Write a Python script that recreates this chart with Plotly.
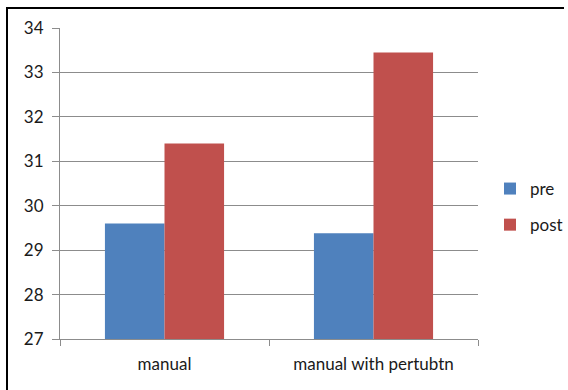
import plotly.graph_objects as go

# Category labels and series values
categories = ["manual", "manual with pertubtn"]
pre_values = [29.6, 29.38]
post_values = [31.4, 33.45]
y_ticks = [27, 28, 29, 30, 31, 32, 33, 34]

BLUE = "#4F81BD"
RED = "#C0504D"
GRID = "#8C8C8C"
FONT = "Lato, Calibri, Carlito, sans-serif"

W, H = 568, 390
L, R, T, B = 60, 90, 28, 51
pw, ph = W - L - R, H - T - B


def px_x(x):
    return (x - L) / pw


def px_y(y):
    return (H - B - y) / ph


fig = go.Figure()
fig.add_trace(go.Bar(name="pre", x=categories, y=pre_values,
                     marker=dict(color=BLUE, line=dict(width=0)),
                     legendgroup="a"))
fig.add_trace(go.Bar(name="post", x=categories, y=post_values,
                     marker=dict(color=RED, line=dict(width=0)),
                     legendgroup="b"))

fig.update_layout(
    width=W, height=H, autosize=False,
    margin=dict(l=L, r=R, t=T, b=B, pad=0, autoexpand=False),
    paper_bgcolor="white", plot_bgcolor="white",
    barmode="group", bargap=0.43, bargroupgap=0,
    font=dict(family=FONT, size=17, color="#1a1a1a"),
    showlegend=True,
    legend=dict(x=px_x(490), y=px_y(171), xanchor="left", yanchor="top",
                font=dict(size=17), tracegroupgap=11,
                itemwidth=30, bgcolor="rgba(0,0,0,0)"),
    xaxis=dict(type="category", tickson="boundaries", ticks="outside",
               ticklen=6, tickcolor=GRID, showline=True, linecolor=GRID,
               linewidth=1, showgrid=False, tickfont=dict(size=17),
               ticklabelstandoff=10),
    yaxis=dict(range=[27, 34], tickvals=y_ticks, ticks="outside",
               ticklen=7, tickcolor=GRID, showline=True, linecolor=GRID,
               linewidth=1, showgrid=True, gridcolor=GRID, gridwidth=1,
               zeroline=False, tickfont=dict(size=17),
               ticklabelstandoff=5),
    shapes=[
        dict(type="line", xref="paper", yref="paper",
             x0=px_x(6), x1=px_x(564), y0=px_y(8), y1=px_y(8),
             line=dict(color="black", width=2)),
        dict(type="line", xref="paper", yref="paper",
             x0=px_x(7), x1=px_x(7), y0=px_y(7), y1=px_y(392),
             line=dict(color="black", width=2)),
    ],
)

fig.write_html("out.html")
